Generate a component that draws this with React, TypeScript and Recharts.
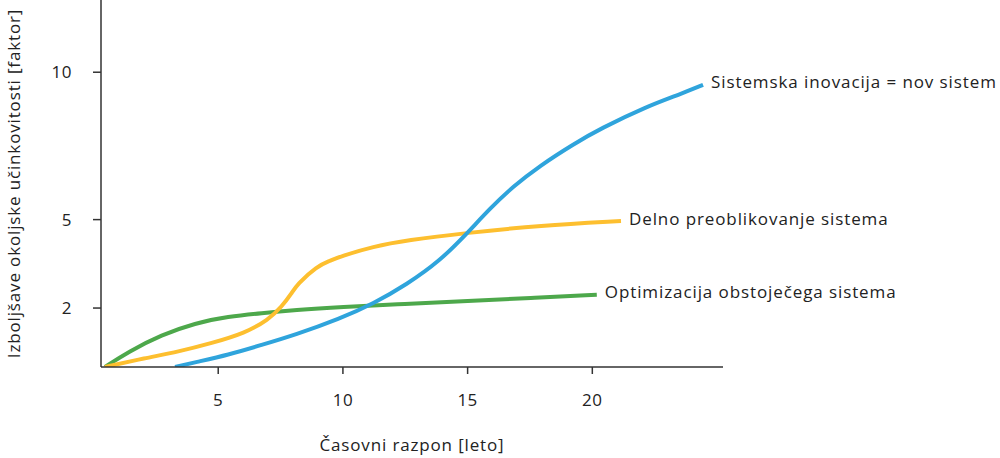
import React from 'react';
import { LineChart, Line, XAxis, YAxis, Label } from 'recharts';

const xTicks = [5, 10, 15, 20];
const yTicks = [2, 5, 10];

const optimX = [0.46, 1.4, 2.73, 4.07, 5.4, 6.74, 8.08, 9.9, 12.5, 15.0, 17.5, 20.18];
const optimY = [0.0, 0.52, 1.09, 1.49, 1.71, 1.83, 1.93, 2.03, 2.14, 2.24, 2.34, 2.45];

const delnoX = [0.46, 2.06, 3.4, 4.74, 6.07, 7.01, 7.55, 7.95, 8.16, 8.96, 9.48, 9.88, 11.22, 12.56, 14.96, 17.9, 21.15];
const delnoY = [0.0, 0.3, 0.52, 0.81, 1.15, 1.6, 2.05, 2.51, 2.8, 3.42, 3.6, 3.75, 4.09, 4.3, 4.55, 4.8, 4.95];

const inovX = [3.27, 4.07, 5.4, 6.74, 8.08, 9.88, 11.22, 12.56, 13.89, 14.96, 15.9, 16.83, 17.9, 19.24, 20.31, 22.19, 23.51, 24.44];
const inovY = [0.0, 0.16, 0.41, 0.75, 1.09, 1.64, 2.15, 2.8, 3.6, 4.52, 5.38, 6.13, 6.83, 7.56, 8.08, 8.84, 9.25, 9.57];

const seriesNames = [
  'Optimizacija obstoječega sistema',
  'Delno preoblikovanje sistema',
  'Sistemska inovacija = nov sistem',
];

const xLabel = 'Časovni razpon [leto]';
const yLabel = 'Izboljšave okoljske učinkovitosti [faktor]';

const toData = (xs: number[], ys: number[]) => xs.map((x, i) => ({ x, y: ys[i] }));

const optimData = toData(optimX, optimY);
const delnoData = toData(delnoX, delnoY);
const inovData = toData(inovX, inovY);

const TEXT = '#222222';
const AXIS = '#333333';
const FONT = '"Open Sans", sans-serif';
const textStyle = { fill: TEXT, fontSize: 17, fontFamily: FONT, letterSpacing: 0.85 };

const endLabel = (name: string, len: number) => (props: any) => {
  const { x, y, index } = props;
  if (index !== len - 1) return null;
  return (
    <text
      x={x + 8}
      y={y - 3}
      fill={TEXT}
      fontSize={17}
      fontFamily={FONT}
      letterSpacing={0.9}
      dominantBaseline="central"
    >
      {name}
    </text>
  );
};

export default function App() {
  return (
    <div style={{ position: 'absolute', left: 0, top: 0, background: '#fff' }}>
      <LineChart
        width={1000}
        height={458}
        margin={{ top: 0, right: 277, bottom: 0, left: 0 }}
        style={{ fontFamily: FONT }}
      >
        <XAxis
          type="number"
          dataKey="x"
          domain={[0.3, 25.24]}
          ticks={xTicks}
          allowDataOverflow
          height={91}
          tickSize={7}
          tickMargin={20}
          axisLine={{ stroke: AXIS, strokeWidth: 1.5 }}
          tickLine={{ stroke: AXIS, strokeWidth: 1.5 }}
          tick={{ ...textStyle, fontSize: 17, letterSpacing: 0.5 }}
        >
          <Label value={xLabel} position="insideBottom" offset={7} style={textStyle} />
        </XAxis>
        <YAxis
          type="number"
          dataKey="y"
          domain={[0, 12.45]}
          ticks={yTicks}
          allowDataOverflow
          width={101}
          tickSize={8}
          tickMargin={21}
          axisLine={{ stroke: AXIS, strokeWidth: 1.5 }}
          tickLine={{ stroke: AXIS, strokeWidth: 1.5 }}
          tick={{ ...textStyle, fontSize: 17, letterSpacing: 0.5 }}
        >
          <Label
            value={yLabel}
            angle={-90}
            position="insideLeft"
            offset={14}
            style={{ ...textStyle, textAnchor: 'middle' }}
          />
        </YAxis>
        <Line
          data={optimData}
          dataKey="y"
          type="basis"
          stroke="#4DA84B"
          strokeWidth={4}
          dot={false}
          isAnimationActive={false}
          label={endLabel(seriesNames[0], optimData.length)}
        />
        <Line
          data={delnoData}
          dataKey="y"
          type="basis"
          stroke="#FDBF2F"
          strokeWidth={4}
          dot={false}
          isAnimationActive={false}
          label={endLabel(seriesNames[1], delnoData.length)}
        />
        <Line
          data={inovData}
          dataKey="y"
          type="basis"
          stroke="#2FA4DC"
          strokeWidth={4}
          dot={false}
          isAnimationActive={false}
          label={endLabel(seriesNames[2], inovData.length)}
        />
      </LineChart>
    </div>
  );
}
